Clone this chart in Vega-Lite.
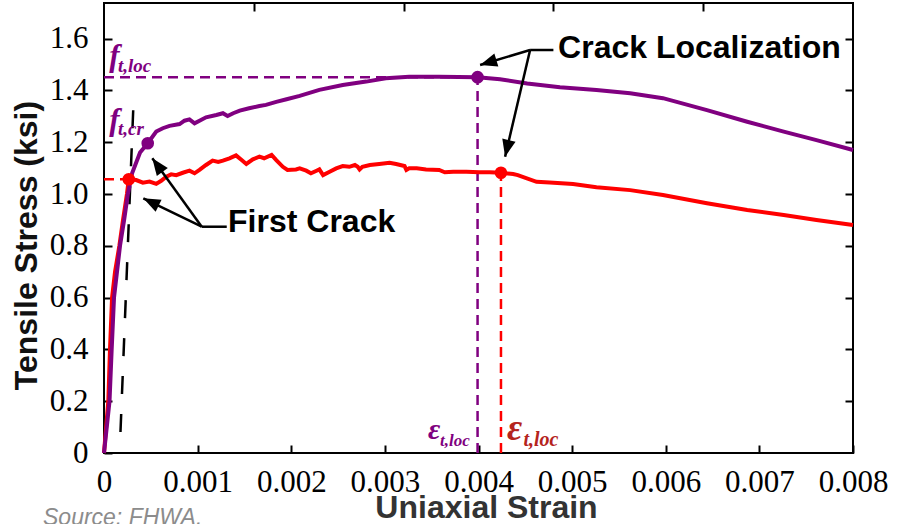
{
  "$schema": "https://vega.github.io/schema/vega-lite/v6.json",
  "width": 749,
  "height": 450,
  "autosize": {"type": "none"},
  "padding": {"left": 104, "top": 3, "right": 44, "bottom": 71},
  "background": "white",
  "title": {"text": "Source: FHWA.", "orient": "bottom", "anchor": "start", "frame": "group", "dx": -61, "offset": -16, "font": "Liberation Sans", "fontSize": 23, "fontStyle": "italic", "fontWeight": "normal", "color": "#8c8c8c", "baseline": "top"},
  "config": {
    "view": {"stroke": "#000", "strokeWidth": 2},
    "axis": {"grid": false, "domain": false}
  },
  "datasets": {
    "curves": [
      {"strain": 0, "stress": 0, "series": "red"},
      {"strain": 0.000046, "stress": 0.2, "series": "red"},
      {"strain": 0.000064, "stress": 0.4, "series": "red"},
      {"strain": 0.000086, "stress": 0.6, "series": "red"},
      {"strain": 0.000118, "stress": 0.7, "series": "red"},
      {"strain": 0.000164, "stress": 0.8, "series": "red"},
      {"strain": 0.000203, "stress": 0.9, "series": "red"},
      {"strain": 0.000245, "stress": 1.0, "series": "red"},
      {"strain": 0.000265, "stress": 1.057, "series": "red"},
      {"strain": 0.000344, "stress": 1.054, "series": "red"},
      {"strain": 0.000415, "stress": 1.044, "series": "red"},
      {"strain": 0.000486, "stress": 1.048, "series": "red"},
      {"strain": 0.000558, "stress": 1.039, "series": "red"},
      {"strain": 0.000611, "stress": 1.051, "series": "red"},
      {"strain": 0.000665, "stress": 1.067, "series": "red"},
      {"strain": 0.000718, "stress": 1.076, "series": "red"},
      {"strain": 0.000771, "stress": 1.073, "series": "red"},
      {"strain": 0.000842, "stress": 1.082, "series": "red"},
      {"strain": 0.000913, "stress": 1.09, "series": "red"},
      {"strain": 0.000967, "stress": 1.08, "series": "red"},
      {"strain": 0.00102, "stress": 1.093, "series": "red"},
      {"strain": 0.00109, "stress": 1.112, "series": "red"},
      {"strain": 0.00116, "stress": 1.129, "series": "red"},
      {"strain": 0.00122, "stress": 1.124, "series": "red"},
      {"strain": 0.00127, "stress": 1.129, "series": "red"},
      {"strain": 0.00134, "stress": 1.138, "series": "red"},
      {"strain": 0.00141, "stress": 1.149, "series": "red"},
      {"strain": 0.00147, "stress": 1.131, "series": "red"},
      {"strain": 0.00152, "stress": 1.116, "series": "red"},
      {"strain": 0.00159, "stress": 1.134, "series": "red"},
      {"strain": 0.00166, "stress": 1.144, "series": "red"},
      {"strain": 0.00171, "stress": 1.138, "series": "red"},
      {"strain": 0.00179, "stress": 1.151, "series": "red"},
      {"strain": 0.00184, "stress": 1.131, "series": "red"},
      {"strain": 0.00191, "stress": 1.105, "series": "red"},
      {"strain": 0.00196, "stress": 1.093, "series": "red"},
      {"strain": 0.00205, "stress": 1.095, "series": "red"},
      {"strain": 0.00209, "stress": 1.099, "series": "red"},
      {"strain": 0.00216, "stress": 1.09, "series": "red"},
      {"strain": 0.00221, "stress": 1.08, "series": "red"},
      {"strain": 0.00227, "stress": 1.09, "series": "red"},
      {"strain": 0.0023, "stress": 1.095, "series": "red"},
      {"strain": 0.00234, "stress": 1.073, "series": "red"},
      {"strain": 0.00241, "stress": 1.086, "series": "red"},
      {"strain": 0.00248, "stress": 1.099, "series": "red"},
      {"strain": 0.00255, "stress": 1.108, "series": "red"},
      {"strain": 0.00262, "stress": 1.105, "series": "red"},
      {"strain": 0.00268, "stress": 1.112, "series": "red"},
      {"strain": 0.00271, "stress": 1.105, "series": "red"},
      {"strain": 0.00273, "stress": 1.095, "series": "red"},
      {"strain": 0.00276, "stress": 1.105, "series": "red"},
      {"strain": 0.00284, "stress": 1.112, "series": "red"},
      {"strain": 0.00294, "stress": 1.116, "series": "red"},
      {"strain": 0.00305, "stress": 1.121, "series": "red"},
      {"strain": 0.00312, "stress": 1.116, "series": "red"},
      {"strain": 0.00321, "stress": 1.108, "series": "red"},
      {"strain": 0.00323, "stress": 1.093, "series": "red"},
      {"strain": 0.00326, "stress": 1.099, "series": "red"},
      {"strain": 0.00334, "stress": 1.099, "series": "red"},
      {"strain": 0.00344, "stress": 1.095, "series": "red"},
      {"strain": 0.00358, "stress": 1.093, "series": "red"},
      {"strain": 0.00364, "stress": 1.084, "series": "red"},
      {"strain": 0.00373, "stress": 1.086, "series": "red"},
      {"strain": 0.00387, "stress": 1.086, "series": "red"},
      {"strain": 0.00401, "stress": 1.084, "series": "red"},
      {"strain": 0.00412, "stress": 1.084, "series": "red"},
      {"strain": 0.00424, "stress": 1.082, "series": "red"},
      {"strain": 0.00437, "stress": 1.077, "series": "red"},
      {"strain": 0.00442, "stress": 1.073, "series": "red"},
      {"strain": 0.00462, "stress": 1.047, "series": "red"},
      {"strain": 0.00476, "stress": 1.044, "series": "red"},
      {"strain": 0.00501, "stress": 1.039, "series": "red"},
      {"strain": 0.00526, "stress": 1.026, "series": "red"},
      {"strain": 0.00562, "stress": 1.015, "series": "red"},
      {"strain": 0.00597, "stress": 0.996, "series": "red"},
      {"strain": 0.00644, "stress": 0.964, "series": "red"},
      {"strain": 0.00687, "stress": 0.938, "series": "red"},
      {"strain": 0.00726, "stress": 0.919, "series": "red"},
      {"strain": 0.00761, "stress": 0.9, "series": "red"},
      {"strain": 0.008, "stress": 0.88, "series": "red"},
      {"strain": 0, "stress": 0, "series": "purple"},
      {"strain": 0.000059, "stress": 0.2, "series": "purple"},
      {"strain": 0.000082, "stress": 0.4, "series": "purple"},
      {"strain": 0.000107, "stress": 0.6, "series": "purple"},
      {"strain": 0.000171, "stress": 0.8, "series": "purple"},
      {"strain": 0.000215, "stress": 0.9, "series": "purple"},
      {"strain": 0.000255, "stress": 1.0, "series": "purple"},
      {"strain": 0.0003, "stress": 1.08, "series": "purple"},
      {"strain": 0.000385, "stress": 1.16, "series": "purple"},
      {"strain": 0.000467, "stress": 1.196, "series": "purple"},
      {"strain": 0.000558, "stress": 1.241, "series": "purple"},
      {"strain": 0.000628, "stress": 1.254, "series": "purple"},
      {"strain": 0.0007, "stress": 1.263, "series": "purple"},
      {"strain": 0.000807, "stress": 1.27, "series": "purple"},
      {"strain": 0.00086, "stress": 1.283, "series": "purple"},
      {"strain": 0.000913, "stress": 1.288, "series": "purple"},
      {"strain": 0.000967, "stress": 1.273, "series": "purple"},
      {"strain": 0.00102, "stress": 1.283, "series": "purple"},
      {"strain": 0.00109, "stress": 1.296, "series": "purple"},
      {"strain": 0.0012, "stress": 1.305, "series": "purple"},
      {"strain": 0.00127, "stress": 1.312, "series": "purple"},
      {"strain": 0.00132, "stress": 1.301, "series": "purple"},
      {"strain": 0.00138, "stress": 1.312, "series": "purple"},
      {"strain": 0.00145, "stress": 1.322, "series": "purple"},
      {"strain": 0.00155, "stress": 1.331, "series": "purple"},
      {"strain": 0.00166, "stress": 1.34, "series": "purple"},
      {"strain": 0.00173, "stress": 1.344, "series": "purple"},
      {"strain": 0.00184, "stress": 1.356, "series": "purple"},
      {"strain": 0.00195, "stress": 1.366, "series": "purple"},
      {"strain": 0.00209, "stress": 1.379, "series": "purple"},
      {"strain": 0.0023, "stress": 1.402, "series": "purple"},
      {"strain": 0.00255, "stress": 1.421, "series": "purple"},
      {"strain": 0.0028, "stress": 1.434, "series": "purple"},
      {"strain": 0.00301, "stress": 1.447, "series": "purple"},
      {"strain": 0.00326, "stress": 1.453, "series": "purple"},
      {"strain": 0.00358, "stress": 1.453, "series": "purple"},
      {"strain": 0.00399, "stress": 1.451, "series": "purple"},
      {"strain": 0.00423, "stress": 1.443, "series": "purple"},
      {"strain": 0.00452, "stress": 1.427, "series": "purple"},
      {"strain": 0.00487, "stress": 1.412, "series": "purple"},
      {"strain": 0.00526, "stress": 1.402, "series": "purple"},
      {"strain": 0.00562, "stress": 1.389, "series": "purple"},
      {"strain": 0.00597, "stress": 1.37, "series": "purple"},
      {"strain": 0.00644, "stress": 1.324, "series": "purple"},
      {"strain": 0.00687, "stress": 1.279, "series": "purple"},
      {"strain": 0.00726, "stress": 1.241, "series": "purple"},
      {"strain": 0.00761, "stress": 1.208, "series": "purple"},
      {"strain": 0.008, "stress": 1.17, "series": "purple"}
    ],
    "dots": [
      {"strain": 0.000467, "stress": 1.196, "series": "purple"},
      {"strain": 0.00399, "stress": 1.451, "series": "purple"},
      {"strain": 0.000265, "stress": 1.057, "series": "red"},
      {"strain": 0.00424, "stress": 1.082, "series": "red"}
    ],
    "guides": [
      {"x": 0, "y": 1.451, "x2": 0.00399, "y2": 1.451, "series": "purple"},
      {"x": 0.00399, "y": 0, "x2": 0.00399, "y2": 1.451, "series": "purple"},
      {"x": 0, "y": 1.057, "x2": 0.000265, "y2": 1.057, "series": "red"},
      {"x": 0.00424, "y": 0, "x2": 0.00424, "y2": 1.082, "series": "red"}
    ],
    "offsetLine": [
      {"x": 0.000176, "y": 0.081, "x2": 0.000315, "y2": 1.351}
    ],
    "arrows": [
      {"x": 0.001044, "y": 0.8737, "x2": 0.00042, "y2": 0.9834},
      {"x": 0.001044, "y": 0.8737, "x2": 0.000516, "y2": 1.1378},
      {"x": 0.001044, "y": 0.8737, "x2": 0.001311, "y2": 0.8737},
      {"x": 0.004551, "y": 1.556, "x2": 0.004017, "y2": 1.4981},
      {"x": 0.004551, "y": 1.556, "x2": 0.004284, "y2": 1.144},
      {"x": 0.004551, "y": 1.556, "x2": 0.0048, "y2": 1.556}
    ]
  },
  "resolve": {"axis": {"x": "independent", "y": "independent"}},
  "layer": [
    {
      "data": {"name": "guides"},
      "mark": {"type": "rule", "strokeWidth": 2.5, "strokeDash": [10, 6]},
      "encoding": {
        "x": {"field": "x", "type": "quantitative", "scale": {"domain": [0, 0.008], "nice": false}, "axis": null},
        "y": {"field": "y", "type": "quantitative", "scale": {"domain": [0, 1.7375], "nice": false}, "axis": null},
        "x2": {"field": "x2"},
        "y2": {"field": "y2"},
        "color": {"field": "series", "type": "nominal", "scale": {"domain": ["red", "purple"], "range": ["#ff0000", "#800080"]}, "legend": null}
      }
    },
    {
      "data": {"name": "offsetLine"},
      "mark": {"type": "rule", "strokeWidth": 2.5, "strokeDash": [18, 20], "color": "#000"},
      "encoding": {
        "x": {"field": "x", "type": "quantitative", "axis": null},
        "y": {"field": "y", "type": "quantitative", "axis": null},
        "x2": {"field": "x2"},
        "y2": {"field": "y2"}
      }
    },
    {
      "data": {"name": "curves"},
      "mark": {"type": "line", "strokeWidth": 4},
      "encoding": {
        "x": {
          "field": "strain", "type": "quantitative",
          "axis": {
            "orient": "bottom",
            "values": [0, 0.001, 0.002, 0.003, 0.004, 0.005, 0.006, 0.007, 0.008],
            "labelExpr": "datum.value == 0 ? '0' : format(datum.value, '.3f')",
            "tickSize": -8, "tickWidth": 2, "tickColor": "#000",
            "labelFont": "Liberation Serif", "labelFontSize": 31, "labelColor": "#000",
            "labelPadding": 22, "labelFlush": false, "labelOverlap": false,
            "title": "Uniaxial Strain", "titleFont": "Liberation Sans", "titleFontSize": 32,
            "titleFontWeight": "bold", "titleColor": "#333", "titlePadding": -5, "titleX": 382
          }
        },
        "y": {
          "field": "stress", "type": "quantitative",
          "axis": {
            "orient": "left",
            "values": [0, 0.2, 0.4, 0.6, 0.8, 1.0, 1.2, 1.4, 1.6],
            "labelExpr": "datum.value == 0 ? '0' : format(datum.value, '.1f')",
            "tickSize": -8, "tickWidth": 2, "tickColor": "#000",
            "labelFont": "Liberation Serif", "labelFontSize": 31, "labelColor": "#000",
            "labelPadding": 24, "labelOverlap": false,
            "title": "Tensile Stress (ksi)", "titleFont": "Liberation Sans", "titleFontSize": 32,
            "titleFontWeight": "bold", "titleColor": "#111", "titlePadding": 6, "titleY": 242
          }
        },
        "color": {"field": "series", "type": "nominal", "legend": null},
        "detail": {"field": "series"}
      }
    },
    {
      "data": {"name": "dots"},
      "mark": {"type": "point", "shape": "circle", "filled": true, "size": 160, "opacity": 1},
      "encoding": {
        "x": {
          "field": "strain", "type": "quantitative",
          "axis": {"orient": "top", "values": [0.0016, 0.0032, 0.0048, 0.0064], "labels": false, "title": null, "tickSize": -8, "tickWidth": 2, "tickColor": "#000"}
        },
        "y": {
          "field": "stress", "type": "quantitative",
          "axis": {"orient": "right", "values": [0.2, 0.4, 0.6, 0.8, 1.0, 1.2, 1.4, 1.6], "labels": false, "title": null, "tickSize": -8, "tickWidth": 2, "tickColor": "#000"}
        },
        "color": {"field": "series", "type": "nominal", "legend": null}
      }
    },
    {
      "data": {"name": "arrows"},
      "mark": {"type": "rule", "strokeWidth": 2.5, "color": "#000"},
      "encoding": {
        "x": {"field": "x", "type": "quantitative", "axis": null},
        "y": {"field": "y", "type": "quantitative", "axis": null},
        "x2": {"field": "x2"},
        "y2": {"field": "y2"}
      }
    },
    {
      "data": {"values": [{"x": 0.00042, "y": 0.9834}]},
      "mark": {"type": "point", "shape": "M0,0L-0.8,2L0.8,2Z", "filled": true, "size": 289, "color": "#000", "opacity": 1, "angle": -64},
      "encoding": {"x": {"field": "x", "type": "quantitative", "axis": null}, "y": {"field": "y", "type": "quantitative", "axis": null}}
    },
    {
      "data": {"values": [{"x": 0.000516, "y": 1.1378}]},
      "mark": {"type": "point", "shape": "M0,0L-0.8,2L0.8,2Z", "filled": true, "size": 289, "color": "#000", "opacity": 1, "angle": -36},
      "encoding": {"x": {"field": "x", "type": "quantitative", "axis": null}, "y": {"field": "y", "type": "quantitative", "axis": null}}
    },
    {
      "data": {"values": [{"x": 0.004017, "y": 1.4981}]},
      "mark": {"type": "point", "shape": "M0,0L-0.8,2L0.8,2Z", "filled": true, "size": 289, "color": "#000", "opacity": 1, "angle": -107},
      "encoding": {"x": {"field": "x", "type": "quantitative", "axis": null}, "y": {"field": "y", "type": "quantitative", "axis": null}}
    },
    {
      "data": {"values": [{"x": 0.004284, "y": 1.144}]},
      "mark": {"type": "point", "shape": "M0,0L-0.8,2L0.8,2Z", "filled": true, "size": 289, "color": "#000", "opacity": 1, "angle": -167},
      "encoding": {"x": {"field": "x", "type": "quantitative", "axis": null}, "y": {"field": "y", "type": "quantitative", "axis": null}}
    },
    {
      "data": {"values": [{"x": 0.001325, "y": 0.853, "label": "First Crack"}, {"x": 0.00485, "y": 1.524, "label": "Crack Localization"}]},
      "mark": {"type": "text", "font": "Liberation Sans", "fontWeight": "bold", "fontSize": 32, "align": "left", "baseline": "alphabetic", "color": "#000"},
      "encoding": {"x": {"field": "x", "type": "quantitative", "axis": null}, "y": {"field": "y", "type": "quantitative", "axis": null}, "text": {"field": "label"}}
    },
    {
      "data": {"values": [{"x": 0.000055, "y": 1.494, "label": "f"}, {"x": 0.000055, "y": 1.247, "label": "f"}]},
      "mark": {"type": "text", "font": "Liberation Serif", "fontWeight": "bold", "fontStyle": "italic", "fontSize": 31, "align": "left", "baseline": "alphabetic", "color": "#800080"},
      "encoding": {"x": {"field": "x", "type": "quantitative", "axis": null}, "y": {"field": "y", "type": "quantitative", "axis": null}, "text": {"field": "label"}}
    },
    {
      "data": {"values": [{"x": 0.00015, "y": 1.471, "label": "t,loc"}, {"x": 0.00015, "y": 1.228, "label": "t,cr"}]},
      "mark": {"type": "text", "font": "Liberation Serif", "fontWeight": "bold", "fontStyle": "italic", "fontSize": 19, "align": "left", "baseline": "alphabetic", "color": "#800080"},
      "encoding": {"x": {"field": "x", "type": "quantitative", "axis": null}, "y": {"field": "y", "type": "quantitative", "axis": null}, "text": {"field": "label"}}
    },
    {
      "data": {"values": [{"x": 0.00346, "y": 0.054, "label": "ε"}]},
      "mark": {"type": "text", "font": "Liberation Serif", "fontWeight": "bold", "fontStyle": "italic", "fontSize": 30, "align": "left", "baseline": "alphabetic", "color": "#800080"},
      "encoding": {"x": {"field": "x", "type": "quantitative", "axis": null}, "y": {"field": "y", "type": "quantitative", "axis": null}, "text": {"field": "label"}}
    },
    {
      "data": {"values": [{"x": 0.00359, "y": 0.027, "label": "t,loc"}]},
      "mark": {"type": "text", "font": "Liberation Serif", "fontWeight": "bold", "fontStyle": "italic", "fontSize": 17, "align": "left", "baseline": "alphabetic", "color": "#800080"},
      "encoding": {"x": {"field": "x", "type": "quantitative", "axis": null}, "y": {"field": "y", "type": "quantitative", "axis": null}, "text": {"field": "label"}}
    },
    {
      "data": {"values": [{"x": 0.004305, "y": 0.05, "label": "ε"}]},
      "mark": {"type": "text", "font": "Liberation Serif", "fontWeight": "bold", "fontStyle": "italic", "fontSize": 37, "align": "left", "baseline": "alphabetic", "color": "#b5241d"},
      "encoding": {"x": {"field": "x", "type": "quantitative", "axis": null}, "y": {"field": "y", "type": "quantitative", "axis": null}, "text": {"field": "label"}}
    },
    {
      "data": {"values": [{"x": 0.00448, "y": 0.027, "label": "t,loc"}]},
      "mark": {"type": "text", "font": "Liberation Serif", "fontWeight": "bold", "fontStyle": "italic", "fontSize": 20, "align": "left", "baseline": "alphabetic", "color": "#b5241d"},
      "encoding": {"x": {"field": "x", "type": "quantitative", "axis": null}, "y": {"field": "y", "type": "quantitative", "axis": null}, "text": {"field": "label"}}
    }
  ]
}
